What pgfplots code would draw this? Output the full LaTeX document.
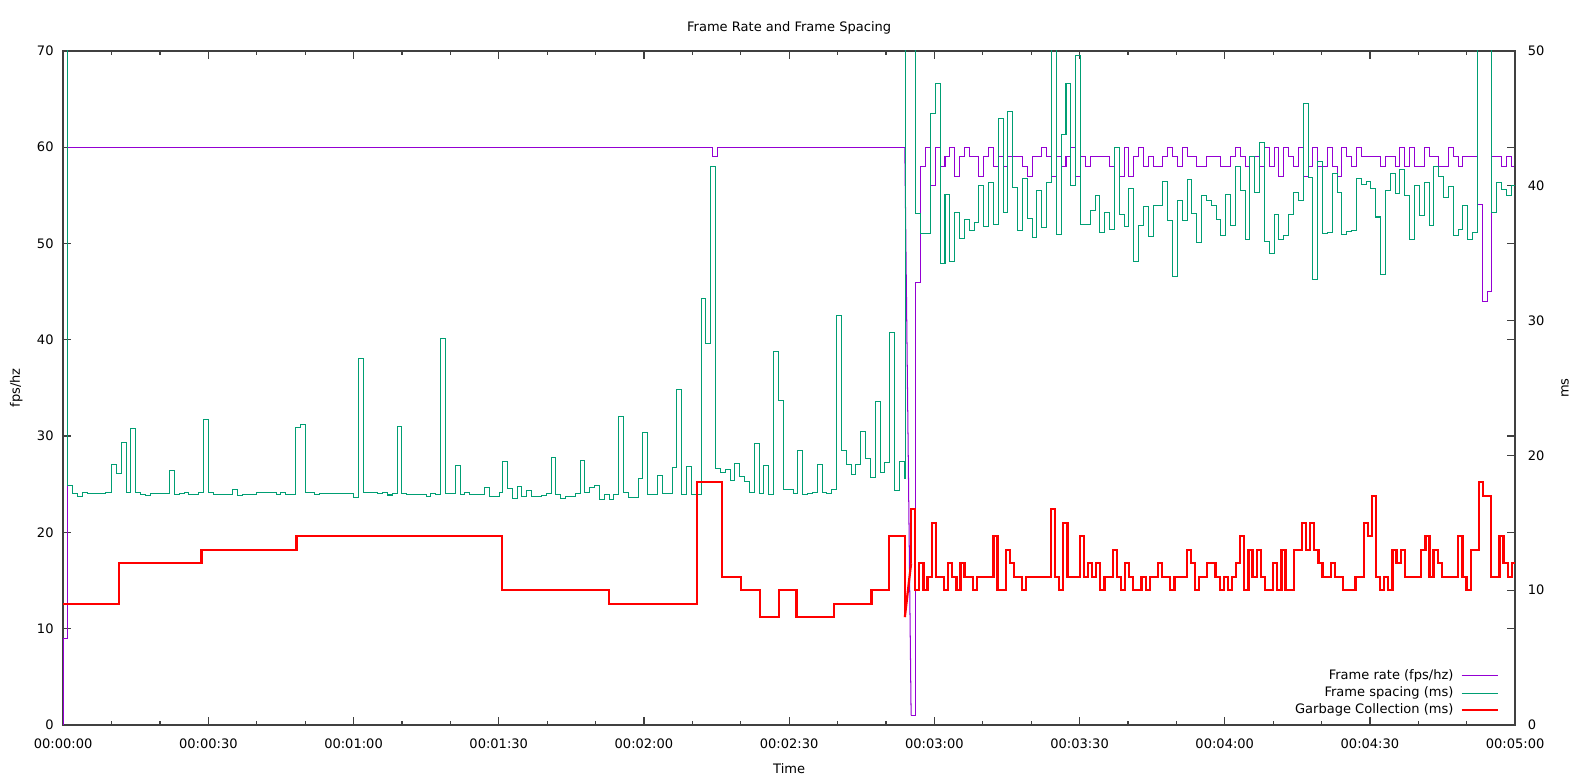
\documentclass[border=0pt]{standalone}
\usepackage{fontspec}
\setmainfont{DejaVu Sans}
\usepackage{pgfplots}
\pgfplotsset{compat=1.18}
\definecolor{fr}{HTML}{9400D3}
\definecolor{fs}{HTML}{009E73}
\definecolor{gc}{HTML}{FF0000}
\definecolor{axc}{HTML}{404040}
\begin{document}%
\fontsize{6.4}{7.7}\selectfont%
\raisebox{0pt}[383pt][0pt]{\begin{tikzpicture}[baseline=0pt, trim left=0pt, trim right=783.7pt]
\useasboundingbox (0,0) rectangle (783.7pt,383pt);
\pgfplotsset{
  common/.style={
    at={(31pt,27pt)}, anchor=south west,
    scale only axis, width=713pt, height=331pt,
    xmin=0, xmax=300,
    font=\fontsize{6.4}{7.7}\selectfont,
    /pgf/number format/assume math mode=true,
    tick align=inside,
    major tick length=4pt, minor tick length=2pt,
    every tick/.style={axc, line width=0.6pt},
    axis line style={axc, line width=0.75pt},
  }
}
\begin{axis}[common,
  ymin=0, ymax=70, ytick={0,10,...,70},
  xtick={0,30,...,300},
  xticklabels={00:00:00,00:00:30,00:01:00,00:01:30,00:02:00,00:02:30,00:03:00,00:03:30,00:04:00,00:04:30,00:05:00},
  minor x tick num=2,
  xtick pos=both, ytick pos=both,
  xticklabel pos=lower, yticklabel pos=left,
  xticklabel style={anchor=base, inner sep=0pt, yshift=-11.3pt},
  yticklabel style={anchor=east, inner sep=0pt, xshift=-4.5pt},
  title={Frame Rate and Frame Spacing},
  title style={at={(axis description cs:0.5,1.0287)}, anchor=base, inner sep=0pt, yshift=-6pt},
  xlabel={Time},
  xlabel style={at={(axis description cs:0.5,-0.0718)}, anchor=base, inner sep=0pt},
  ylabel={fps/hz},
  ylabel style={at={(axis description cs:-0.0323,0.5)}, anchor=center, inner sep=0pt},
]
\addplot[const plot, fr, line width=0.5pt] coordinates {
(0,0) (0,9) (0.9,60) (134.2,59) (135.1,60) (173.9,60)};
\addplot[sharp plot, fr, line width=0.5pt] coordinates {(173.9,60) (175.2,1)};
\addplot[const plot, fr, line width=0.5pt] coordinates {
(175.2,1) (176.2,46) (177.2,58) (178.2,60) (179.2,56) (180.2,60) (181.2,58) (182.2,59) (183.2,60)
(184.2,57) (185.2,59) (186.2,60) (187.2,59) (189.2,57) (190.2,59) (191.2,60) (192.2,58) (193.2,59)
(194.2,58) (195.2,59) (198.2,58) (199.2,57) (200.2,59) (202.2,60) (203.2,59) (204.2,57) (205.2,59)
(206.2,58) (207.2,59) (208.2,60) (209.2,57) (210.2,59) (211.2,58) (212.2,59) (216.2,58) (217.2,60)
(218.2,57) (219.2,60) (220.2,57) (221.2,59) (222.2,60) (223.2,58) (224.2,59) (225.2,58) (227.2,59)
(228.2,60) (229.2,59) (230.2,58) (231.2,60) (232.2,59) (234.2,58) (236.2,59) (239.2,58) (241.2,59)
(242.2,60) (243.2,59) (244.2,58) (245.2,59) (247.2,58) (248.2,60) (249.2,58) (250.2,60) (251.2,57)
(252.2,60) (253.2,59) (254.2,58) (255.2,60) (256.2,57) (257.2,58) (258.2,60) (259.2,58) (261.2,60)
(262.2,58) (263.2,57) (264.2,60) (265.2,59) (266.2,58) (267.2,60) (268.2,59) (272.2,58) (273.2,59)
(275.2,58) (276.2,60) (277.2,58) (278.2,60) (279.2,58) (281.2,60) (282.2,59) (284.2,58) (286.2,60)
(287.2,59) (288.2,58) (289.2,59) (292.2,54) (293.2,44) (294.2,45) (295.2,59) (297.2,58) (298.2,59)
(299.2,58) (300,58)};
\end{axis}
\begin{axis}[common,
  ymin=0, ymax=50, ytick={0,10,...,50},
  axis y line*=right, axis x line=none, xtick=\empty,
  ytick pos=right,
  yticklabel style={anchor=west, inner sep=0pt, xshift=6pt},
  ylabel={ms},
  ylabel style={at={(axis description cs:1.0344,0.5)}, anchor=center, inner sep=0pt},
  legend style={at={(axis description cs:0.9895,0.0113)}, anchor=south east,
    draw=none, fill=none, inner sep=0pt, row sep=2pt, column sep=3.5pt,
    nodes={inner sep=0pt, text height=5pt, text depth=1.5pt}},
  legend cell align=right,
  legend plot pos=right,
  legend image code/.code={\draw[#1] (0pt,0pt) -- (18pt,0pt);},
]
\addlegendimage{fr, line width=0.5pt}
\addlegendentry{Frame rate (fps/hz)}
\addplot[const plot, fs, line width=0.5pt] coordinates {
(0,111) (0.9,17.79) (1.9,17.14) (3,16.96) (4,17.21) (5,17.14) (8.8,17.26) (10,19.34) (11,18.63)
(12,20.94) (13,17.21) (14,22.02) (15,17.21) (16,17.1) (17,17.01) (18,17.14) (22,18.87) (23,17.09)
(24,17.14) (25,17.21) (26,17.09) (28,17.21) (29,22.64) (30,17.21) (31,17.09) (35,17.46) (36,17.01)
(37,17.09) (40,17.21) (44,17.09) (45,17.21) (46,17.09) (48,22.1) (49,22.3) (50,17.21) (52,17.09)
(53,17.19) (60,16.91) (61,27.18) (62,17.26) (65,17.14) (66,17.21) (67,17.06) (68,17.14) (69,22.17)
(70,17.14) (71,17.11) (75,16.96) (76,17.14) (77,17.09) (78,28.67) (79,17.14) (81,19.27) (82,17.09)
(83,17.21) (84,17.11) (87,17.58) (88,16.96) (90.2,17.26)
(90.8,19.52) (91.8,17.56) (92.8,16.82) (93.8,17.68) (94.8,16.94) (95.8,17.39) (96.8,16.94)
(98.8,17.02) (99.8,17.19) (100.8,19.82) (101.8,17.12) (102.8,16.82) (103.8,16.94) (105.8,17.14)
(106.8,19.6) (107.8,17.24) (108.8,17.63) (109.8,17.8) (110.8,16.75) (111.8,17.12) (112.8,16.7)
(113.8,17.12) (114.8,22.88) (115.8,17.24) (116.8,16.87) (118.8,18.29) (119.8,21.66) (120.8,17.07)
(122.8,18.49) (123.8,17.19) (125.8,19.1) (126.8,24.92) (127.8,17.12) (128.8,19.15) (129.8,17.12)
(131.8,31.67) (132.8,28.28) (133.8,41.43) (134.8,19.03) (135.8,18.74) (136.8,18.96) (137.8,18.1)
(138.8,19.4) (139.8,18.42) (140.8,18.05) (141.8,17.24) (142.8,20.87) (143.8,17.14) (144.8,19.23)
(145.8,17.07) (146.8,27.74) (147.8,24.06) (148.8,17.48) (150.8,17.14) (151.8,20.33) (152.8,17.07)
(153.8,17.19) (154.8,17.26) (155.8,19.33) (156.8,17.26) (157.8,17.19) (158.8,17.44) (159.8,30.37)
(160.8,20.38) (161.8,19.35) (162.8,18.61) (163.8,19.35) (164.8,21.78) (165.8,19.77) (166.8,18.37)
(167.8,23.99) (168.8,18.74) (169.8,19.47) (170.8,29.14) (171.8,17.36) (172.8,19.52) (173.9,18.3)
(174.1,120)
(176.2,37.96) (177.2,36.45) (178.2,36.45) (179.2,45.34) (180.2,47.61) (181.2,34.26) (182.2,39.36)
(183.2,34.36) (184.2,38.0) (185.2,36.08) (186.2,37.51) (187.2,36.7) (188.2,37.27) (189.2,40.05)
(190.2,36.97) (191.2,40.22) (192.2,37.14) (193.2,45.02) (194.2,38.0) (195.2,45.52) (196.2,39.9)
(197.2,36.7) (198.2,40.54) (199.2,37.56) (200.2,36.16) (201.2,39.66) (202.2,36.9) (203.2,40.22)
(204.2,60) (205.2,36.4) (206.2,43.79) (207.2,47.61) (208.2,40.02) (209.2,49.63) (210.2,37.14)
(211.2,37.14) (212.2,38.13) (213.2,39.31) (214.2,36.53) (215.2,38.0) (216.2,36.72) (217.2,42.81)
(218.2,37.88) (219.2,36.97) (220.2,39.8) (221.2,34.38) (222.2,37.02) (223.2,38.45) (224.2,36.23)
(225.2,38.5) (226.2,38.55) (227.2,40.34) (228.2,37.44) (229.2,33.28) (230.2,38.94) (231.2,37.44)
(232.2,40.47) (233.2,37.96) (234.2,35.79) (235.2,39.31) (236.2,38.92) (237.2,38.57) (238.2,37.51)
(239.2,36.28) (240.2,39.36) (241.2,37.07) (242.2,41.4) (243.2,39.61) (244.2,35.99) (245.2,42.14)
(246.2,39.48) (247.2,43.23) (248.2,35.86) (249.2,34.98) (250.2,37.88) (251.2,36.03) (252.2,36.33)
(253.2,37.83) (254.2,39.48) (255.2,38.92) (256.2,46.13) (257.2,40.64) (258.2,33.08) (259.2,41.77)
(260.2,36.45) (261.2,36.53) (262.2,40.89) (263.2,39.53) (264.2,36.35) (265.2,36.58) (266.2,36.65)
(267.2,40.54) (268.2,40.1) (269.2,40.34) (270.2,39.78) (271.2,37.68) (272.2,33.45) (273.2,39.68)
(274.2,40.89) (275.2,39.43) (276.2,41.21) (277.2,39.31) (278.2,36.03) (279.2,40.05) (280.2,37.81)
(281.2,40.22) (282.2,37.02) (283.2,41.4) (284.2,40.67) (285.2,39.11) (286.2,39.93) (287.2,36.28)
(288.2,36.72) (289.2,38.5) (290.2,36.03) (291.2,36.53) (292.2,60) (295.2,38.0) (296.2,40.27)
(297.2,39.71) (298.2,39.29) (299.2,40.0) (300,40.0)};
\addlegendentry{Frame spacing (ms)}
\addplot[const plot, gc, line width=1.1pt] coordinates {
(0,9) (11.6,12) (28.6,13) (48.2,14) (90.7,10) (112.8,9) (131.0,18) (136.2,11) (140.1,10)
(143.9,8) (147.9,10) (151.5,8) (159.3,9) (167.0,10) (170.7,14) (173.9,8)};
\addlegendentry{Garbage Collection (ms)}
\addplot[sharp plot, gc, line width=1.1pt, forget plot] coordinates {(173.9,8) (175.2,12)};
\addplot[const plot, gc, line width=1.1pt, forget plot] coordinates {
(175.2,12) (175.2,16) (176.05,10) (176.9,12) (177.75,10) (178.6,11) (179.45,15) (180.3,11)
(182.0,10) (182.85,12) (183.7,11) (184.55,10) (185.4,12) (186.25,11) (187.95,10) (188.8,11)
(192.2,14) (193.05,10) (194.75,13) (195.6,12) (196.45,11) (198.15,10) (199.0,11) (204.1,16)
(204.95,11) (205.8,10) (206.65,15) (207.5,11) (210.05,14) (210.9,11) (211.75,12) (212.6,11)
(213.45,12) (214.3,10) (215.15,11) (216.85,13) (217.7,11) (218.55,10) (219.4,12) (220.25,11)
(221.1,10) (222.8,11) (223.65,10) (224.5,11) (226.2,12) (227.05,11) (228.75,10) (229.6,11)
(232.15,13) (233.0,12) (233.85,10) (234.7,11) (236.4,12) (238.1,11) (238.95,10) (239.8,11)
(240.65,10) (241.5,11) (242.35,12) (243.2,14) (244.05,10) (244.9,13) (245.75,11) (246.6,13)
(247.45,11) (248.3,10) (250.0,12) (250.85,10) (251.7,13) (252.55,10) (254.25,13) (255.95,15)
(256.8,13) (257.65,15) (258.5,13) (259.35,12) (260.2,11) (261.9,12) (262.75,11) (264.45,10)
(267.0,11) (268.7,15) (269.55,14) (270.4,17) (271.25,11) (272.1,10) (272.95,11) (273.8,10)
(274.65,13) (275.5,12) (276.35,13) (277.2,11) (280.6,13) (281.45,14) (282.3,11) (283.15,13)
(284.0,12) (284.85,11) (288.25,14) (289.1,11) (289.95,10) (290.8,13) (292.5,18) (293.35,17)
(295.05,11) (296.75,14) (297.6,12) (298.45,11) (299.3,12) (300,12)};
\end{axis}
\end{tikzpicture}}%
\end{document}
